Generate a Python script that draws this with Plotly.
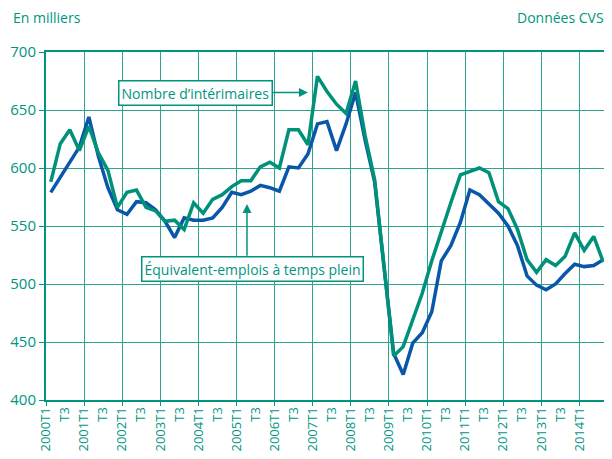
import plotly.graph_objects as go

# Quarterly data, 2000T1 .. 2014T3 (thousands, seasonally adjusted)
years = list(range(2000, 2015))
quarters = [f"{y}T{q}" for y in years for q in (1, 2, 3, 4)][:59]

interimaires = [588, 621, 633, 615, 636, 613, 598, 566, 579, 581, 566, 563,
                554, 555, 547, 570, 561, 573, 577, 584, 589, 589, 601, 605,
                600, 633, 633, 620, 679, 666, 655, 647, 675, 628, 590, 514,
                438, 446, 470, 492, 520, 546, 570, 594, 597, 600, 596, 571,
                565, 547, 521, 510, 521, 516, 524, 544, 529, 541, 519]

equiv_temps_plein = [579, 592, 605, 618, 644, 610, 583, 564, 560, 571, 570, 564,
                     554, 540, 557, 555, 555, 557, 566, 579, 577, 580, 585, 583,
                     580, 601, 600, 612, 638, 640, 615, 638, 665, 624, 588, 514,
                     440, 422, 449, 458, 476, 520, 533, 553, 581, 577, 569, 561,
                     550, 533, 507, 499, 495, 500, 509, 517, 515, 516, 521]

y_ticks = [400, 450, 500, 550, 600, 650, 700]

TEAL = "#00957F"
GRID = "#2FA290"
GREEN = "#009279"
BLUE = "#0A56A8"
FONT = "Open Sans"

idx = list(range(len(quarters)))

# tick labels at half-year boundaries (T1 and T3), up to 2014T1
tick_pos = []
tick_txt = []
for i, q in enumerate(quarters):
    if q.endswith("T1") or q.endswith("T3"):
        if i <= 56:
            tick_pos.append(i - 0.5)
            tick_txt.append(q if q.endswith("T1") else "T3")
year_pos = [i - 0.5 for i, q in enumerate(quarters) if q.endswith("T1")]

fig = go.Figure()
fig.add_trace(go.Scatter(x=idx, y=equiv_temps_plein, mode="lines",
                         line=dict(color=BLUE, width=3.5), name="Équivalent-emplois à temps plein",
                         hovertext=quarters))
fig.add_trace(go.Scatter(x=idx, y=interimaires, mode="lines",
                         line=dict(color=GREEN, width=3.5), name="Nombre d’intérimaires",
                         hovertext=quarters))

fig.update_layout(
    width=604, height=451,
    margin=dict(l=37, r=2, t=44, b=59),
    paper_bgcolor="white", plot_bgcolor="white",
    showlegend=False,
    font=dict(family=FONT, color=TEAL, size=14),
    xaxis=dict(range=[-0.5, len(quarters) - 0.5], tickmode="array",
               tickvals=tick_pos, ticktext=tick_txt, tickangle=-90,
               ticks="", showgrid=False, zeroline=False,
               showline=True, linecolor=TEAL, linewidth=2, mirror=True,
               tickfont=dict(size=13, color=TEAL, family=FONT),
               minor=dict(tickmode="array", tickvals=year_pos, showgrid=True,
                          gridcolor=GRID, gridwidth=1.4, ticks="outside",
                          ticklen=4, tickcolor=TEAL, tickwidth=1.4)),
    yaxis=dict(range=[400, 700], tickmode="array", tickvals=y_ticks,
               ticks="outside", ticklen=5, tickcolor=TEAL, tickwidth=1.4,
               showgrid=True, gridcolor=GRID, gridwidth=1.4, zeroline=False,
               showline=True, linecolor=TEAL, linewidth=2, mirror=True,
               tickfont=dict(size=15, color=TEAL, family=FONT)),
)

fig.add_annotation(xref="paper", yref="paper", x=-0.062, y=1.098,
                   xanchor="left", yanchor="middle", showarrow=False,
                   text="En milliers", font=dict(size=14, color=TEAL))
fig.add_annotation(xref="paper", yref="paper", x=0.997, y=1.098,
                   xanchor="right", yanchor="middle", showarrow=False,
                   text="Données CVS", font=dict(size=14, color=TEAL))

# "Nombre d'intérimaires" box with arrow pointing right
fig.add_annotation(x=27.0, y=665, xref="x", yref="y",
                   text="Nombre d’intérimaires", showarrow=True,
                   ax=-112, ay=0, arrowhead=2, arrowsize=1.2, arrowwidth=1.5,
                   arrowcolor=TEAL, bordercolor=TEAL, borderwidth=1.5,
                   borderpad=2, bgcolor="white",
                   font=dict(size=14, color=TEAL))

# "Équivalent-emplois à temps plein" box and vertical arrow
fig.add_annotation(x=9.5, y=513, xref="x", yref="y", xanchor="left",
                   text="Équivalent-emplois à temps plein", showarrow=False,
                   bordercolor=TEAL, borderwidth=1.5, borderpad=2, bgcolor="white",
                   font=dict(size=14, color=TEAL))
fig.add_annotation(x=20.6, y=569, xref="x", yref="y", axref="x", ayref="y",
                   ax=20.6, ay=523, text="", showarrow=True,
                   arrowhead=2, arrowsize=1.2, arrowwidth=1.5, arrowcolor=TEAL)

fig.write_html("out.html")
